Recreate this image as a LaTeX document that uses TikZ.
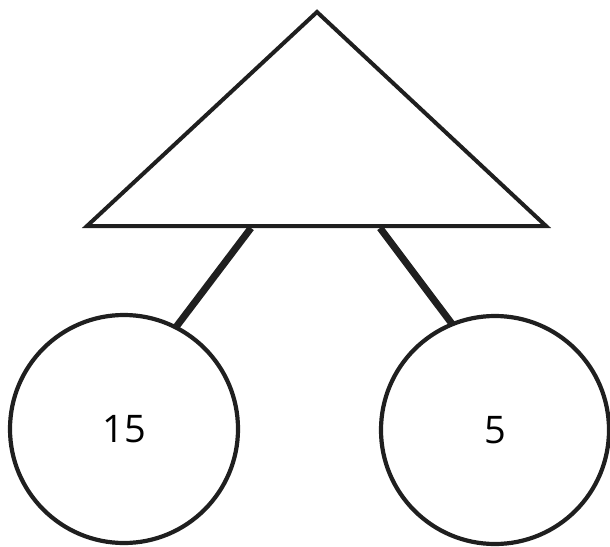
\documentclass[tikz,border=0pt]{standalone}
\usepackage{fontspec}
\setmainfont{Open Sans}
\begin{document}
\begin{tikzpicture}[x=1pt,y=-1pt,
  numcircle/.style={circle,draw=black!88,line width=4.2pt,minimum size=228pt,inner sep=0pt,outer sep=0pt,font=\fontsize{38}{40}\selectfont},
  tri/.style={draw=black!88,line width=4pt,line join=miter},
  link/.style={draw=black!88,line width=7pt}]
\useasboundingbox (0,0) rectangle (610,546);
\coordinate (apex) at (317,12);
\coordinate (bl) at (87,226);
\coordinate (br) at (546,226);
\path[tri] (apex) -- (br) -- (bl) -- cycle;
\coordinate (la) at (251,228);
\coordinate (ra) at (380,228);
\node[numcircle] (c1) at (124,429) {15};
\node[numcircle] (c2) at (495,430) {5};
\path[link] (la) -- (c1.63);
\path[link] (ra) -- (c2.112);
\end{tikzpicture}
\end{document}
